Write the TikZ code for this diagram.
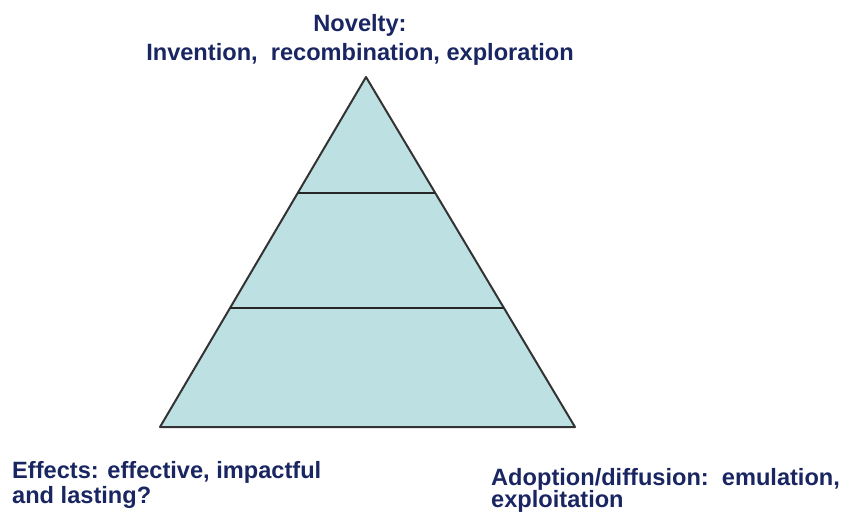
\documentclass[tikz,border=0pt]{standalone}
\usepackage{fontspec}
\setmainfont{Liberation Sans}
\usetikzlibrary{calc}
\definecolor{textblue}{HTML}{1A2662}
\definecolor{pyrfill}{HTML}{BDE0E3}
\tikzset{tiertext/.style={font=\bfseries, text=textblue, inner sep=0pt}}

\begin{document}
\begin{tikzpicture}[x=1pt,y=-1pt]
\useasboundingbox (0,0) rectangle (842,516);
\coordinate (top) at (366,77);
\coordinate (bl) at (160,427);
\coordinate (br) at (575,427);
\draw[line width=2pt, draw=black!80, fill=pyrfill, line join=round] (top) -- (bl) -- (br) -- cycle;
\draw[line width=2.5pt, draw=black!85] ($(top)!0.331!(bl)$) -- ($(top)!0.331!(br)$);
\draw[line width=2.5pt, draw=black!85] ($(top)!0.66!(bl)$) -- ($(top)!0.66!(br)$);
\node[tiertext, align=center, anchor=base, font=\fontsize{23.6}{29}\selectfont\bfseries] (novelty) at (360,61) {Novelty:\\Invention,\ \ recombination, exploration};
\node[tiertext, align=left, anchor=base west, font=\fontsize{23.6}{25}\selectfont\bfseries] (effects) at (12,503) {Effects: effective, impactful\\and lasting?};
\node[tiertext, align=left, anchor=base west, font=\fontsize{23.6}{22}\selectfont\bfseries] (adoption) at (491,507) {Adoption/diffusion:\ \ emulation,\\exploitation};
\end{tikzpicture}
\end{document}
